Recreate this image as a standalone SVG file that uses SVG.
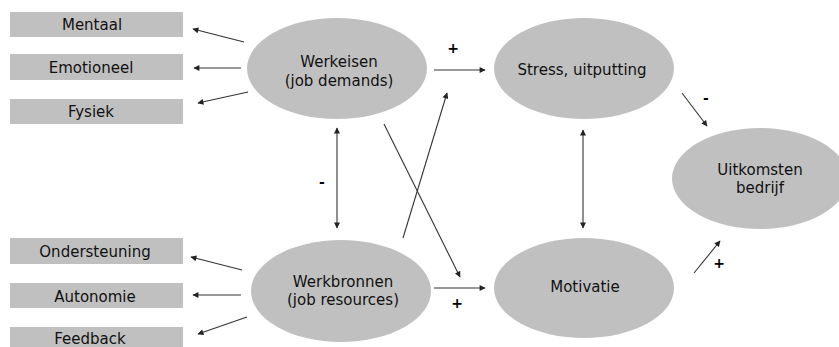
<svg xmlns="http://www.w3.org/2000/svg" width="839" height="347" viewBox="0 0 839 347">
<style>
.box{fill:#c0c0c0}
.ell{fill:#c0c0c0}
text{font-family:"DejaVu Sans",Verdana,sans-serif;font-size:15px;fill:#111;text-anchor:middle}
.lbl{font-size:14px;fill:#000;font-weight:bold}
.ln{stroke:#333;stroke-width:1.1;fill:none}
</style>
<defs>
<marker id="ah" viewBox="0 0 10 10" refX="9" refY="5" markerWidth="7" markerHeight="6" markerUnits="userSpaceOnUse" orient="auto-start-reverse">
<path d="M0,0 L10,5 L0,10 z" fill="#222"/>
</marker>
</defs>
<rect width="839" height="347" fill="#fff"/>
<g id="mentaal"><rect class="box" x="10" y="12" width="173" height="25"/><text x="92" y="29.5">Mentaal</text></g>
<g id="emotioneel"><rect class="box" x="10" y="54" width="173" height="26"/><text x="91" y="73">Emotioneel</text></g>
<g id="fysiek"><rect class="box" x="10" y="99" width="173" height="25"/><text x="91" y="117">Fysiek</text></g>
<g id="ondersteuning"><rect class="box" x="10" y="238" width="173" height="26"/><text x="95" y="257">Ondersteuning</text></g>
<g id="autonomie"><rect class="box" x="10" y="283" width="173" height="25"/><text x="95" y="302">Autonomie</text></g>
<g id="feedback"><rect class="box" x="10" y="327" width="173" height="22"/><text x="90" y="343.5">Feedback</text></g>
<g id="werkeisen"><ellipse class="ell" cx="337" cy="68.5" rx="90" ry="50.5"/><text x="339" y="67">Werkeisen</text><text x="339" y="86">(job demands)</text></g>
<g id="werkbronnen"><ellipse class="ell" cx="341" cy="291" rx="90" ry="51"/><text x="343" y="287">Werkbronnen</text><text x="343" y="305">(job resources)</text></g>
<g id="stress"><ellipse class="ell" cx="584" cy="68.5" rx="90" ry="50.5"/><text x="582" y="75">Stress, uitputting</text></g>
<g id="motivatie"><ellipse class="ell" cx="584" cy="288" rx="90" ry="50"/><text x="585" y="292">Motivatie</text></g>
<g id="uitkomsten"><ellipse class="ell" cx="760" cy="178.5" rx="88" ry="50.5"/><text x="760" y="175">Uitkomsten</text><text x="760" y="193">bedrijf</text></g>
<g id="connectors">
<line class="ln" x1="244" y1="42" x2="193" y2="29" marker-end="url(#ah)"/>
<line class="ln" x1="241" y1="68" x2="194" y2="68" marker-end="url(#ah)"/>
<line class="ln" x1="248" y1="92" x2="198" y2="103" marker-end="url(#ah)"/>
<line class="ln" x1="242" y1="270" x2="191" y2="257" marker-end="url(#ah)"/>
<line class="ln" x1="241" y1="295" x2="193" y2="295" marker-end="url(#ah)"/>
<line class="ln" x1="247" y1="317" x2="198" y2="334" marker-end="url(#ah)"/>
<line class="ln" x1="434" y1="70" x2="485" y2="70" marker-end="url(#ah)"/>
<line class="ln" x1="682" y1="93" x2="707" y2="126" marker-end="url(#ah)"/>
<line class="ln" x1="403" y1="238" x2="447" y2="93" marker-end="url(#ah)"/>
<line class="ln" x1="384" y1="124" x2="460" y2="277" marker-end="url(#ah)"/>
<line class="ln" x1="337" y1="128" x2="337" y2="228" marker-start="url(#ah)" marker-end="url(#ah)"/>
<line class="ln" x1="434" y1="288" x2="485" y2="288" marker-end="url(#ah)"/>
<line class="ln" x1="583" y1="130" x2="583" y2="228" marker-start="url(#ah)" marker-end="url(#ah)"/>
<line class="ln" x1="694" y1="273" x2="720" y2="241" marker-end="url(#ah)"/>
<text class="lbl" x="453" y="53">+</text>
<text class="lbl" x="706" y="103">-</text>
<text class="lbl" x="322" y="187">-</text>
<text class="lbl" x="457" y="308">+</text>
<text class="lbl" x="719" y="268">+</text>
</g>
</svg>
